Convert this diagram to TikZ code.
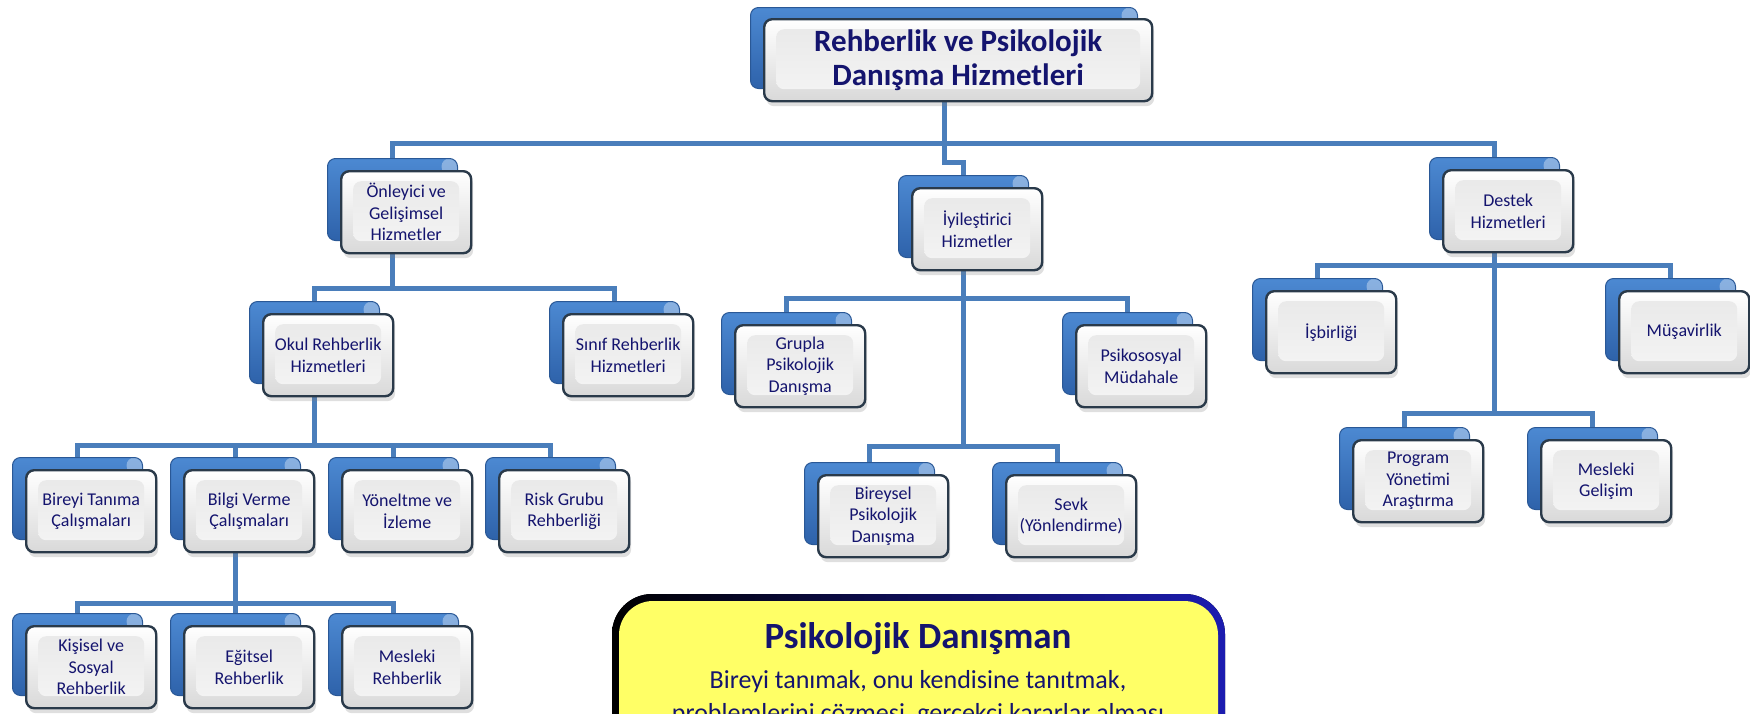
\documentclass[tikz,border=0pt]{standalone}
\usepackage{fontspec}
\setmainfont{Carlito}
\usetikzlibrary{shadows,backgrounds}
\definecolor{conncol}{HTML}{4A7EBB}
\definecolor{navy}{RGB}{20,20,110}
\definecolor{bluetop}{HTML}{4C89D2}
\definecolor{bluebot}{HTML}{2E62AA}
\definecolor{blueline}{HTML}{2A5896}
\definecolor{frameline}{HTML}{2A3A4A}
\definecolor{yel}{RGB}{255,255,102}
\definecolor{bordblue}{RGB}{28,28,176}
\tikzset{
  conn/.style={draw=conncol, line width=2.5pt, line join=miter},
  backbox/.style={anchor=north west, minimum width=65pt, minimum height=41pt,
    inner sep=0pt, rounded corners=4pt, top color=bluetop, bottom color=bluebot,
    draw=blueline, line width=0.5pt,
    path picture={\fill[white,opacity=0.35]
      ([xshift=-4pt,yshift=-4pt]path picture bounding box.north east) circle (4pt);}},
  frontbox/.style={anchor=north west, minimum width=65pt, minimum height=41pt,
    inner sep=0pt, rounded corners=4pt, top color=white, bottom color=black!15,
    draw=frameline, line width=1.2pt, align=center, text=navy,
    font=\fontsize{9}{10.75}\selectfont,
    drop shadow={shadow xshift=1pt, shadow yshift=-2.5pt, opacity=0.25},
    path picture={\shade[top color=black!9, bottom color=black!4]
      ([xshift=6pt,yshift=-5pt]path picture bounding box.north west) rectangle
      ([xshift=-6pt,yshift=6pt]path picture bounding box.south east);}},
  mainback/.style={backbox, minimum width=193.5pt, minimum height=40.5pt},
  mainfront/.style={frontbox, minimum width=194pt, minimum height=41pt,
    font=\bfseries\fontsize{15.5}{17}\selectfont},
  pdtext/.style={anchor=base, text=navy},
}
\newcommand\orgbox[4]{%
  \node[backbox] (#1-b) at (#2,#3) {};
  \node[frontbox] (#1) at (#2+13,#3+12) {#4};
}
\begin{document}
\begin{tikzpicture}[x=0.5pt,y=-0.5pt]
\useasboundingbox (0,0) rectangle (1750,713);
\clip (0,0) rectangle (1750,713);

% top box
\node[mainback] (main-b) at (750,7) {};
\node[mainfront] (main) at (763,18) {Rehberlik ve Psikolojik\\Danışma Hizmetleri};

% level 1
\orgbox{onl}{327}{158}{Önleyici ve\\Gelişimsel\\Hizmetler}
\orgbox{iyil}{898}{175}{İyileştirici\\Hizmetler}
\orgbox{destek}{1429}{157}{Destek\\Hizmetleri}

% under Önleyici
\orgbox{okul}{249}{301}{Okul Rehberlik\\Hizmetleri}
\orgbox{sinif}{549}{301}{Sınıf Rehberlik\\Hizmetleri}

% under Okul
\orgbox{bireyi}{12}{457}{Bireyi Tanıma\\Çalışmaları}
\orgbox{bilgi}{170}{457}{Bilgi Verme\\Çalışmaları}
\orgbox{yonelt}{328}{457}{Yöneltme ve\\İzleme}
\orgbox{risk}{485}{457}{Risk Grubu\\Rehberliği}

% under Bilgi
\orgbox{kisisel}{12}{613}{Kişisel ve\\Sosyal\\Rehberlik}
\orgbox{egitsel}{170}{613}{Eğitsel\\Rehberlik}
\orgbox{mesleki}{328}{613}{Mesleki\\Rehberlik}

% under İyileştirici
\orgbox{grupla}{721}{312}{Grupla\\Psikolojik\\Danışma}
\orgbox{psiko}{1062}{312}{Psikososyal\\Müdahale}
\orgbox{bireysel}{804}{462}{Bireysel\\Psikolojik\\Danışma}
\orgbox{sevk}{992}{462}{Sevk\\(Yönlendirme)}

% under Destek
\orgbox{isb}{1252}{278}{İşbirliği}
\orgbox{musa}{1605}{278}{Müşavirlik}
\orgbox{program}{1339}{427}{Program\\Yönetimi\\Araştırma}
\orgbox{mesg}{1527}{427}{Mesleki\\Gelişim}

% yellow box
\fill[left color=black, right color=bordblue, rounded corners=20pt] (612,594) rectangle (1225,830);
\fill[yel, rounded corners=17pt] (619,601) rectangle (1218,823);
\node[pdtext, font=\bfseries\fontsize{18.5}{22}\selectfont] (pdtitle) at (918,648) {Psikolojik Danışman};
\node[pdtext, font=\fontsize{13}{16}\selectfont] (pdl1) at (918,688) {Bireyi tanımak, onu kendisine tanıtmak,};
\node[pdtext, font=\fontsize{13}{16}\selectfont] (pdl2) at (918,721) {problemlerini çözmesi, gerçekçi kararlar alması};

\begin{pgfonlayer}{background}
\fill[white] (0,0) rectangle (1750,713);
% top
\draw[conn] (main-b.center) -- (main-b.center |- 0,162) -| (iyil-b.north);
\draw[conn] (onl-b.north) |- (destek-b.north |- 0,143) -- (destek-b.north);
% Önleyici
\draw[conn] (onl-b.center) -- (onl-b.center |- 0,288);
\draw[conn] (okul-b.north) |- (sinif-b.north |- 0,288) -- (sinif-b.north);
% Okul
\draw[conn] (okul-b.center) -- (okul-b.center |- 0,445);
\draw[conn] (bireyi-b.north) |- (risk-b.north |- 0,445) -- (risk-b.north);
\draw[conn] (bilgi-b.north) -- (bilgi-b.north |- 0,445);
\draw[conn] (yonelt-b.north) -- (yonelt-b.north |- 0,445);
% Bilgi
\draw[conn] (bilgi-b.center) -- (bilgi-b.center |- 0,603);
\draw[conn] (kisisel-b.north) |- (mesleki-b.north |- 0,603) -- (mesleki-b.north);
\draw[conn] (egitsel-b.north) -- (egitsel-b.north |- 0,603);
% İyileştirici
\draw[conn] (iyil-b.center) -- (iyil-b.center |- 0,446);
\draw[conn] (grupla-b.north) |- (psiko-b.north |- 0,298) -- (psiko-b.north);
\draw[conn] (bireysel-b.north) |- (sevk-b.north |- 0,446) -- (sevk-b.north);
% Destek
\draw[conn] (destek-b.center) -- (destek-b.center |- 0,413);
\draw[conn] (isb-b.north) |- (musa-b.north |- 0,265) -- (musa-b.north);
\draw[conn] (program-b.north) |- (mesg-b.north |- 0,413) -- (mesg-b.north);
\end{pgfonlayer}
\end{tikzpicture}
\end{document}
